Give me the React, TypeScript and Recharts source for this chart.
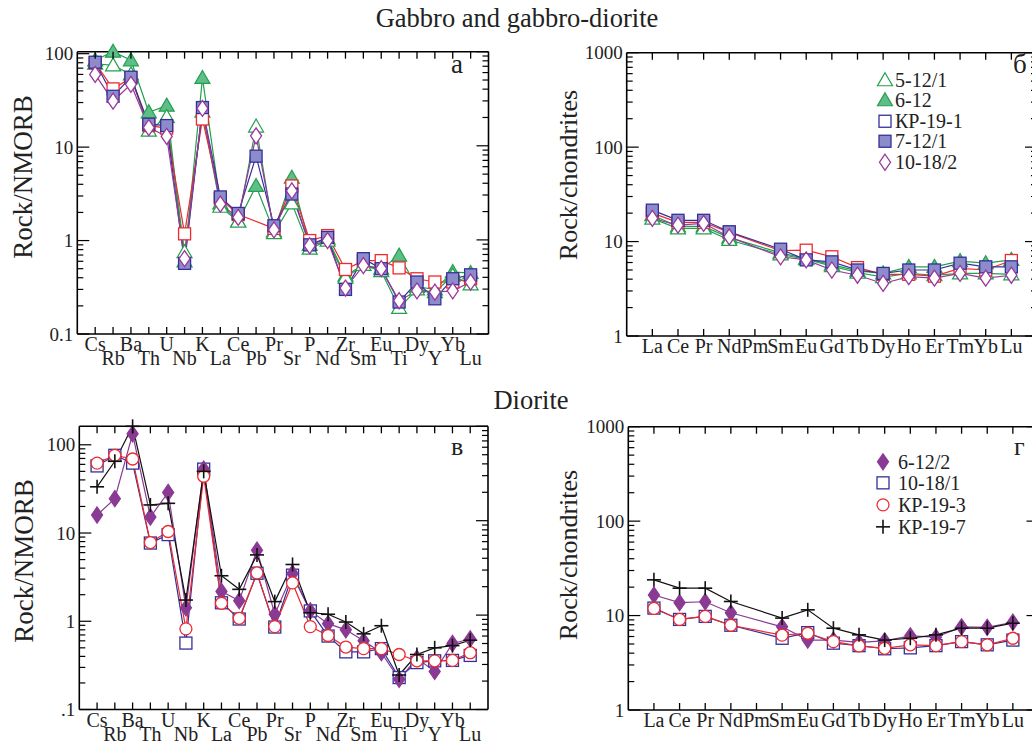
import React from 'react';
import { LineChart, Line, XAxis, YAxis, Legend } from 'recharts';

const FONT = '"Liberation Serif", "DejaVu Serif", serif';

const spiderNames = ['Cs', 'Rb', 'Ba', 'Th', 'U', 'Nb', 'K', 'La', 'Ce', 'Pb', 'Pr', 'Sr', 'P', 'Nd', 'Zr', 'Sm', 'Eu', 'Ti', 'Dy', 'Y', 'Yb', 'Lu'];
const reeNames = ['La', 'Ce', 'Pr', 'Nd', 'Pm', 'Sm', 'Eu', 'Gd', 'Tb', 'Dy', 'Ho', 'Er', 'Tm', 'Yb', 'Lu'];

// а — gabbro, rock/NMORB
const a5_12_1 = [78, 75, 60, 15, 21, 0.75, 24, 2.3, 1.6, 16.6, 1.2, 2.5, 0.82, 1.0, 0.4, 0.55, 0.47, 0.19, 0.3, 0.28, 0.42, 0.34];
const a6_12 = [85, 105, 85, 23.6, 27.8, 0.6, 55, 2.5, 1.6, 3.84, 1.25, 4.7, 0.9, 1.05, 0.42, 0.55, 0.5, 0.69, 0.32, 0.3, 0.46, 0.45];
const aKP19_1 = [80, 42, 55, 17, 16, 1.18, 20, 2.8, 1.9, null, 1.35, 3.84, 1.0, 1.13, 0.49, 0.61, 0.61, 0.51, 0.39, 0.36, 0.36, 0.39];
const a7_12_1 = [81, 35, 56, 17.6, 17, 0.57, 26.5, 2.93, 1.95, 8, 1.44, 3.15, 0.9, 1.08, 0.3, 0.64, 0.5, 0.22, 0.36, 0.238, 0.39, 0.43];
const a10_18_2 = [60, 31, 47, 16.2, 13, 0.64, 26, 2.45, 1.77, 13.2, 1.3, 3.4, 0.88, 1.0, 0.31, 0.54, 0.5, 0.227, 0.29, 0.28, 0.29, 0.36];

// б — gabbro, rock/chondrites
const b5_12_1 = [17.5, 13.8, 13.8, 10.4, null, 7.3, 6.5, 5.5, 4.7, 4.2, 4.6, 4.4, 4.6, 4.6, 4.5];
const b6_12 = [19, 14.5, 14.5, 11, null, 7.6, 6.6, 5.7, 4.9, 4.6, 5.4, 5.4, 6.2, 5.9, 6.4];
const bKP19_1 = [20, 16, 16, 12.5, null, 8, 8.1, 6.9, 5.3, 4.5, 4.5, 4.3, 5.2, 5.0, 6.3];
const b7_12_1 = [21.5, 16.8, 16.8, 12.7, null, 8.3, 6.4, 6.1, 5.0, 4.6, 5.0, 5.0, 5.9, 5.4, 5.4];
const b10_18_2 = [17.6, 14.9, 15.6, 11.2, null, 6.9, 6.4, 5.0, 4.4, 3.6, 4.25, 4.1, 4.6, 4.1, 4.4];

// в — diorite, rock/NMORB
const c6_12_2 = [16, 24.5, 133, 15.2, 28.8, 1.42, 53, 2.18, 1.71, 6.4, 1.2, 3.47, 1.31, 0.94, 0.8, 0.6, 0.44, 0.22, 0.38, 0.27, 0.56, 0.63];
const c10_18_1 = [57.6, 76, 62, 7.7, 9.6, 0.566, 53, 1.62, 1.06, 3.5, 0.86, 3.33, 1.31, 0.68, 0.45, 0.45, 0.49, 0.23, 0.34, 0.356, 0.36, 0.41];
const cKP19_3 = [62, 76, 69, 7.8, 10.4, 0.82, 44, 1.6, 1.08, 3.53, 0.87, 2.72, 0.87, 0.69, 0.51, 0.49, 0.49, 0.42, 0.356, 0.356, 0.36, 0.44];
const cKP19_7 = [33.4, 65, 162, 20.8, 21.7, 1.74, 50, 3.28, 2.3, 5.65, 1.67, 4.4, 1.25, 1.2, 0.98, 0.72, 0.89, 0.246, 0.42, 0.5, 0.53, 0.61];

// г — diorite, rock/chondrites
const d6_12_2 = [16.5, 13.7, 14, 10.7, null, 7.6, 5.5, 5.5, 5.2, 5.4, 6.1, 5.9, 7.6, 7.5, 8.5];
const d10_18_1 = [12, 9.1, 9.8, 7.9, null, 5.75, 6.6, 5.1, 4.8, 4.45, 4.55, 4.8, 5.3, 4.9, 5.5];
const dKP19_3 = [11.9, 9.1, 9.8, 7.9, null, 6.2, 6.5, 5.3, 4.77, 4.5, 4.9, 4.8, 5.3, 4.9, 5.75];
const dKP19_7 = [23.9, 19.5, 19.5, 14.1, null, 9.4, 11.5, 7.35, 6.25, 5.5, 5.75, 6.25, 7.35, 7.35, 8.3];

const GREEN = '#22a04e';
const GREEN_FILL = '#5fbd87';
const RED = '#ee2a2f';
const BLUE = '#34309a';
const BLUE_FILL = '#8d8ccb';
const PURPLE = '#98389d';
const PURPLE_FILL = '#8a3a92';
const BLACK = '#111111';

type Kind = 'tri' | 'sq' | 'dia' | 'circ' | 'plus';

interface SeriesDef {
  name: string;
  values: (number | null)[];
  kind: Kind;
  stroke: string;
  fill: string;
}

const gabbroSpider: SeriesDef[] = [
  { name: '6-12', values: a6_12, kind: 'tri', stroke: GREEN, fill: GREEN_FILL },
  { name: '5-12/1', values: a5_12_1, kind: 'tri', stroke: GREEN, fill: '#fff' },
  { name: 'КР-19-1', values: aKP19_1, kind: 'sq', stroke: RED, fill: '#fff' },
  { name: '7-12/1', values: a7_12_1, kind: 'sq', stroke: BLUE, fill: BLUE_FILL },
  { name: '10-18/2', values: a10_18_2, kind: 'dia', stroke: PURPLE, fill: '#fff' },
];
const gabbroRee: SeriesDef[] = [
  { name: '6-12', values: b6_12, kind: 'tri', stroke: GREEN, fill: GREEN_FILL },
  { name: '5-12/1', values: b5_12_1, kind: 'tri', stroke: GREEN, fill: '#fff' },
  { name: 'КР-19-1', values: bKP19_1, kind: 'sq', stroke: RED, fill: '#fff' },
  { name: '7-12/1', values: b7_12_1, kind: 'sq', stroke: BLUE, fill: BLUE_FILL },
  { name: '10-18/2', values: b10_18_2, kind: 'dia', stroke: PURPLE, fill: '#fff' },
];
const dioriteSpider: SeriesDef[] = [
  { name: '10-18/1', values: c10_18_1, kind: 'sq', stroke: BLUE, fill: '#fff' },
  { name: '6-12/2', values: c6_12_2, kind: 'dia', stroke: PURPLE_FILL, fill: PURPLE_FILL },
  { name: 'КР-19-3', values: cKP19_3, kind: 'circ', stroke: RED, fill: '#fff' },
  { name: 'КР-19-7', values: cKP19_7, kind: 'plus', stroke: BLACK, fill: BLACK },
];
const dioriteRee: SeriesDef[] = [
  { name: '10-18/1', values: d10_18_1, kind: 'sq', stroke: BLUE, fill: '#fff' },
  { name: '6-12/2', values: d6_12_2, kind: 'dia', stroke: PURPLE_FILL, fill: PURPLE_FILL },
  { name: 'КР-19-3', values: dKP19_3, kind: 'circ', stroke: RED, fill: '#fff' },
  { name: 'КР-19-7', values: dKP19_7, kind: 'plus', stroke: BLACK, fill: BLACK },
];

const gabbroLegend = [
  { name: '5-12/1', kind: 'tri' as Kind, stroke: GREEN, fill: '#fff' },
  { name: '6-12', kind: 'tri' as Kind, stroke: GREEN, fill: GREEN_FILL },
  { name: 'КР-19-1', kind: 'sq' as Kind, stroke: BLUE, fill: '#fff' },
  { name: '7-12/1', kind: 'sq' as Kind, stroke: BLUE, fill: BLUE_FILL },
  { name: '10-18/2', kind: 'dia' as Kind, stroke: PURPLE, fill: '#fff' },
];
const dioriteLegend = [
  { name: '6-12/2', kind: 'dia' as Kind, stroke: PURPLE_FILL, fill: PURPLE_FILL },
  { name: '10-18/1', kind: 'sq' as Kind, stroke: BLUE, fill: '#fff' },
  { name: 'КР-19-3', kind: 'circ' as Kind, stroke: RED, fill: '#fff' },
  { name: 'КР-19-7', kind: 'plus' as Kind, stroke: BLACK, fill: BLACK },
];

function Marker({ kind, cx, cy, stroke, fill }: { kind: Kind; cx: number; cy: number; stroke: string; fill: string }) {
  switch (kind) {
    case 'tri':
      return <polygon points={`${cx},${cy - 7.5} ${cx + 7.5},${cy + 5.5} ${cx - 7.5},${cy + 5.5}`} fill={fill} stroke={stroke} strokeWidth={1.2} />;
    case 'sq':
      return <rect x={cx - 6} y={cy - 6} width={12} height={12} fill={fill} stroke={stroke} strokeWidth={1.3} />;
    case 'dia':
      return <polygon points={`${cx},${cy - 8} ${cx + 5.5},${cy} ${cx},${cy + 8} ${cx - 5.5},${cy}`} fill={fill} stroke={stroke} strokeWidth={1.3} />;
    case 'circ':
      return <circle cx={cx} cy={cy} r={6} fill={fill} stroke={stroke} strokeWidth={1.3} />;
    case 'plus':
      return (
        <g>
          <line x1={cx - 7} x2={cx + 7} y1={cy} y2={cy} stroke={stroke} strokeWidth={1.6} />
          <line x1={cx} x2={cx} y1={cy - 7} y2={cy + 7} stroke={stroke} strokeWidth={1.6} />
        </g>
      );
  }
  return null;
}

function buildRows(names: string[], series: SeriesDef[]) {
  return names.map((n, i) => {
    const row: any = { x: i + 1, el: n };
    series.forEach((s, k) => {
      row['s' + k] = s.values[i];
    });
    return row;
  });
}

function logTicks(lo: number, hi: number) {
  const out: number[] = [];
  for (let d = lo; d < hi; d++) {
    for (let m = 1; m < 10; m++) out.push(m * Math.pow(10, d));
  }
  out.push(Math.pow(10, hi));
  return out;
}

function isMajor(v: number) {
  const l = Math.log10(v);
  return Math.abs(l - Math.round(l)) < 1e-6;
}

function LegendBox({ items, gap, textGap }: { items: typeof gabbroLegend; gap: number; textGap: number }) {
  return (
    <div style={{ fontFamily: FONT, fontSize: 20, color: '#222' }}>
      {items.map((it) => (
        <div key={it.name} style={{ display: 'flex', alignItems: 'center', height: gap }}>
          <svg width={18} height={gap} style={{ overflow: 'visible' }}>
            <Marker kind={it.kind} cx={9} cy={gap / 2} stroke={it.stroke} fill={it.fill} />
          </svg>
          <span style={{ marginLeft: textGap, lineHeight: 1 }}>{it.name}</span>
        </div>
      ))}
    </div>
  );
}

interface PanelProps {
  names: string[];
  series: SeriesDef[];
  left: number;
  right: number;
  top: number;
  bottom: number;
  decades: [number, number];
  yLabels: string[];
  twoRows: boolean;
  legend?: React.ReactNode;
  legendPos?: { left: number; top: number };
}

const CW = 1040;
const CH = 742;
const AX = { stroke: '#000', strokeWidth: 1.6 };

function Panel({ names, series, left, right, top, bottom, decades, yLabels, twoRows, legend, legendPos }: PanelProps) {
  const rows = buildRows(names, series);
  const xMax = names.length + 1;
  const xTicks = names.map((_, i) => i + 1);
  const yTicks = logTicks(decades[0], decades[1]);
  const yMin = Math.pow(10, decades[0]);
  const yMax = Math.pow(10, decades[1]);

  const bottomTick = (p: any) => {
    const i = p.payload.value - 1;
    const row = twoRows ? i % 2 : 0;
    return (
      <g>
        <line x1={p.x} x2={p.x} y1={p.y} y2={p.y - 7} stroke="#000" strokeWidth={1.3} />
        <text x={p.x} y={p.y + 17 + row * 14} textAnchor="middle" fontFamily={FONT} fontSize={20} fill="#222">
          {names[i]}
        </text>
      </g>
    );
  };
  const topTick = (p: any) => <line x1={p.x} x2={p.x} y1={p.y} y2={p.y + 7} stroke="#000" strokeWidth={1.3} />;
  const leftTick = (p: any) => {
    const v = p.payload.value;
    const major = isMajor(v);
    const idx = Math.round(Math.log10(v)) - decades[0];
    return (
      <g>
        <line x1={p.x} x2={p.x + (major ? 12 : 6)} y1={p.y} y2={p.y} stroke="#000" strokeWidth={1.2} />
        {major && (
          <text x={p.x - 4} y={p.y + 6.5} textAnchor="end" fontFamily={FONT} fontSize={19} fill="#222">
            {yLabels[idx]}
          </text>
        )}
      </g>
    );
  };
  const rightTick = (p: any) => {
    const major = isMajor(p.payload.value);
    return <line x1={p.x} x2={p.x - (major ? 12 : 6)} y1={p.y} y2={p.y} stroke="#000" strokeWidth={1.2} />;
  };

  return (
    <div style={{ position: 'absolute', left: 0, top: 0 }}>
      <LineChart
        width={CW}
        height={CH}
        data={rows}
        margin={{ left: left - 1, top: top - 1, right: CW - right - 1, bottom: CH - bottom - 1 }}
      >
        <XAxis
          dataKey="x"
          type="number"
          domain={[0, xMax]}
          ticks={xTicks}
          interval={0}
          height={1}
          tickSize={0}
          tickMargin={0}
          tickLine={false}
          axisLine={AX}
          tick={bottomTick}
        />
        <XAxis
          xAxisId="top"
          orientation="top"
          dataKey="x"
          type="number"
          domain={[0, xMax]}
          allowDataOverflow
          ticks={xTicks}
          interval={0}
          height={1}
          tickSize={0}
          tickMargin={0}
          tickLine={false}
          axisLine={AX}
          tick={topTick}
        />
        <YAxis
          type="number"
          scale="log"
          domain={[() => yMin, () => yMax]}
          ticks={yTicks}
          interval={0}
          width={1}
          tickSize={0}
          tickMargin={0}
          tickLine={false}
          axisLine={AX}
          tick={leftTick}
        />
        <YAxis
          yAxisId="right"
          orientation="right"
          type="number"
          scale="log"
          domain={[yMin, yMax]}
          allowDataOverflow
          ticks={yTicks}
          interval={0}
          width={1}
          tickSize={0}
          tickMargin={0}
          tickLine={false}
          axisLine={AX}
          tick={rightTick}
        />
        {series.map((s, k) => (
          <Line
            key={s.name}
            dataKey={'s' + k}
            name={s.name}
            type="linear"
            stroke={s.stroke}
            strokeWidth={1.2}
            connectNulls
            isAnimationActive={false}
            activeDot={false}
            dot={(p: any) =>
              p.cx == null || p.cy == null || p.value == null ? (
                <g key={'d' + k + '-' + p.index} />
              ) : (
                <g key={'d' + k + '-' + p.index}>
                  <Marker kind={s.kind} cx={p.cx} cy={p.cy} stroke={s.stroke} fill={s.fill} />
                </g>
              )
            }
          />
        ))}
        {legend && legendPos && (
          <Legend
            layout="vertical"
            align="center"
            verticalAlign="middle"
            wrapperStyle={{ position: 'absolute', left: legendPos.left, top: legendPos.top, width: 150, height: 'auto' }}
            content={() => legend}
          />
        )}
      </LineChart>
    </div>
  );
}

export default function App() {
  return (
    <div style={{ position: 'absolute', left: 0, top: 0, width: 1032, height: 742, overflow: 'hidden', background: '#fff' }}>
      <Panel
        names={spiderNames}
        series={gabbroSpider}
        left={77.3}
        right={488.5}
        top={51.7}
        bottom={334}
        decades={[-1, 2]}
        yLabels={['0.1', '1', '10', '100']}
        twoRows
      />
      <Panel
        names={reeNames}
        series={gabbroRee}
        left={626.7}
        right={1037}
        top={52.7}
        bottom={336}
        decades={[0, 3]}
        yLabels={['1', '10', '100', '1000']}
        twoRows={false}
        legend={<LegendBox items={gabbroLegend} gap={20.5} textGap={1} />}
        legendPos={{ left: 876, top: 69.7 }}
      />
      <Panel
        names={spiderNames}
        series={dioriteSpider}
        left={79.3}
        right={488}
        top={426.3}
        bottom={709.5}
        decades={[-1, 2]}
        yLabels={['.1', '1', '10', '100']}
        twoRows
      />
      <Panel
        names={reeNames}
        series={dioriteRee}
        left={628.3}
        right={1038.5}
        top={426.7}
        bottom={710}
        decades={[0, 3]}
        yLabels={['1', '10', '100', '1000']}
        twoRows={false}
        legend={<LegendBox items={dioriteLegend} gap={21.7} textGap={6} />}
        legendPos={{ left: 874, top: 450.8 }}
      />
      <svg width={1032} height={742} style={{ position: 'absolute', left: 0, top: 0, pointerEvents: 'none' }}>
        <g fontFamily={FONT} fill="#222">
          <text x={517} y={27} fontSize={26.5} textAnchor="middle">Gabbro and gabbro-diorite</text>
          <text x={531} y={409} fontSize={26.5} textAnchor="middle">Diorite</text>
          <text transform="translate(32,177) rotate(-90)" fontSize={27} textAnchor="middle">Rock/NMORB</text>
          <text transform="translate(33,561) rotate(-90)" fontSize={27} textAnchor="middle">Rock/NMORB</text>
          <text transform="translate(577,175) rotate(-90)" fontSize={26} textAnchor="middle">Rock/chondrites</text>
          <text transform="translate(577,555) rotate(-90)" fontSize={26} textAnchor="middle">Rock/chondrites</text>
          <text x={451} y={73} fontSize={27}>а</text>
          <text x={1013} y={73} fontSize={27}>б</text>
          <text x={451} y={455} fontSize={26}>в</text>
          <text x={1014} y={455} fontSize={26}>г</text>
        </g>
      </svg>
    </div>
  );
}
